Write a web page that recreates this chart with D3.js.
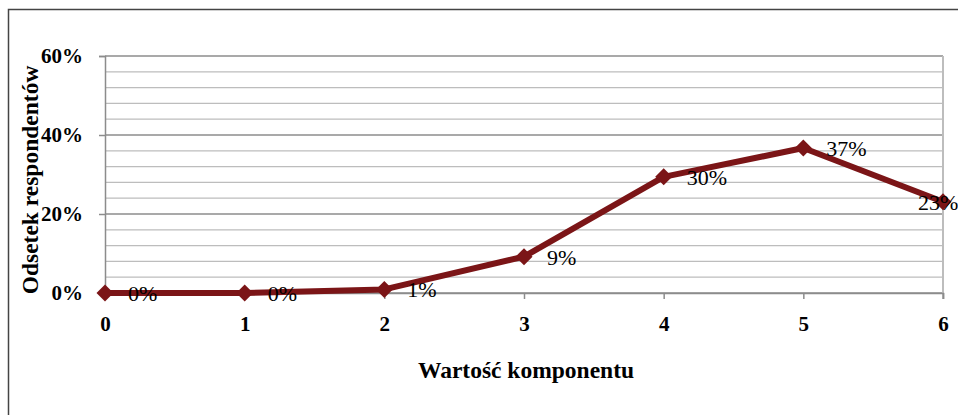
<!DOCTYPE html>
<html>
<head>
<meta charset="utf-8">
<script src="https://cdn.jsdelivr.net/npm/d3@7"></script>
<style>
  body { margin: 0; background: #fff; }
  text { font-family: "Liberation Serif", "Times New Roman", serif; fill: #000; }
</style>
</head>
<body>
<div id="chart"></div>
<script>
// data
var categories = [0, 1, 2, 3, 4, 5, 6];
var shares = [0, 0, 0.9, 9.2, 29.4, 36.7, 23.1];
var shareLabels = ["0%", "0%", "1%", "9%", "30%", "37%", "23%"];
var yTicks = [0, 20, 40, 60];
var minorTicks = d3.range(0, 61, 4);

var width = 958, height = 415;
var margin = {left: 105, right: 15, top: 56, bottom: 122};

var svg = d3.select("#chart").append("svg")
    .attr("width", width)
    .attr("height", height);

// outer frame (clipped at right and bottom like the source)
svg.append("rect")
    .attr("x", 8.5).attr("y", 9.5)
    .attr("width", width + 10).attr("height", height + 10)
    .attr("fill", "none")
    .attr("stroke", "#444")
    .attr("stroke-width", 1.5);

var x = d3.scaleLinear().domain([0, 6]).range([margin.left, width - margin.right]);
var y = d3.scaleLinear().domain([0, 60]).range([height - margin.bottom, margin.top]);

// grid
svg.append("g").selectAll("line")
    .data(minorTicks)
    .enter().append("line")
    .attr("x1", x(0)).attr("x2", x(6))
    .attr("y1", function(d) { return y(d); })
    .attr("y2", function(d) { return y(d); })
    .attr("stroke", function(d) { return d % 20 === 0 ? "#8c8c8c" : "#bdbdbd"; })
    .attr("stroke-width", function(d) { return d % 20 === 0 ? 1.5 : 1.2; });

// right border of plot area
svg.append("line")
    .attr("x1", x(6)).attr("x2", x(6))
    .attr("y1", y(60)).attr("y2", y(0) + 6)
    .attr("stroke", "#bdbdbd").attr("stroke-width", 2);

// y axis
var yAxis = svg.append("g")
    .attr("transform", "translate(" + x(0) + ",0)")
    .call(d3.axisLeft(y).tickValues(yTicks).tickSize(6).tickPadding(16)
        .tickFormat(function(d) { return d + "%"; }));
yAxis.select(".domain").attr("stroke", "#8c8c8c").attr("stroke-width", 1.5);
yAxis.selectAll(".tick line").attr("stroke", "#8c8c8c").attr("stroke-width", 1.5);
yAxis.selectAll("text")
    .style("font-size", "21px").style("font-weight", "bold");

// x axis
var xAxis = svg.append("g")
    .attr("transform", "translate(0," + y(0) + ")")
    .call(d3.axisBottom(x).tickValues(categories).tickSize(6).tickPadding(17)
        .tickFormat(d3.format("d")));
xAxis.select(".domain").attr("stroke", "#8c8c8c").attr("stroke-width", 1.5);
xAxis.selectAll(".tick line").attr("stroke", "#8c8c8c").attr("stroke-width", 1.5);
xAxis.selectAll("text")
    .style("font-size", "21px").style("font-weight", "bold");

// line
var lineColor = "#7b1517";
svg.append("path")
    .datum(shares)
    .attr("fill", "none")
    .attr("stroke", lineColor)
    .attr("stroke-width", 6)
    .attr("stroke-linejoin", "round")
    .attr("d", d3.line()
        .x(function(d, i) { return x(categories[i]); })
        .y(function(d) { return y(d); }));

// diamond markers
svg.append("g").selectAll("path")
    .data(shares)
    .enter().append("path")
    .attr("transform", function(d, i) { return "translate(" + x(categories[i]) + "," + y(d) + ")"; })
    .attr("d", "M0,-8.5L8.5,0L0,8.5L-8.5,0Z")
    .attr("fill", lineColor);

// data labels
svg.append("g").selectAll("text")
    .data(shares)
    .enter().append("text")
    .attr("x", function(d, i) { return i === 6 ? x(categories[i]) - 25 : x(categories[i]) + 23; })
    .attr("y", function(d) { return y(d) + 8; })
    .style("font-size", "22px")
    .text(function(d, i) { return shareLabels[i]; });

// axis titles
svg.append("text")
    .attr("x", 526).attr("y", 378)
    .attr("text-anchor", "middle")
    .style("font-size", "23.5px").style("font-weight", "bold")
    .text("Wartość komponentu");

svg.append("text")
    .attr("transform", "translate(38,180) rotate(-90)")
    .attr("text-anchor", "middle")
    .style("font-size", "23.5px").style("font-weight", "bold")
    .text("Odsetek respondentów");
</script>
</body>
</html>
